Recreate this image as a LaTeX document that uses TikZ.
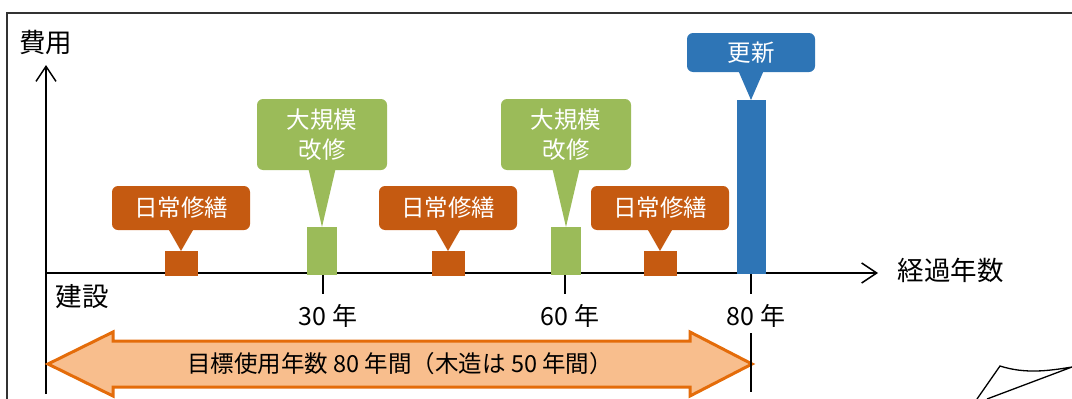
\documentclass[tikz,border=0pt]{standalone}
\usepackage{fontspec}
\setmainfont{Noto Sans CJK JP}
\usetikzlibrary{arrows.meta}
\definecolor{repair}{HTML}{C55A11}
\definecolor{major}{HTML}{9BBB59}
\definecolor{renew}{HTML}{2E75B6}
\definecolor{spanfill}{HTML}{F8BE8D}
\definecolor{spanline}{HTML}{E46C0A}

\begin{document}
\begin{tikzpicture}[x=1pt,y=-1pt,
  bubble/.style={rounded corners=6pt,text=white,align=center,inner sep=0pt,
    font=\fontsize{23.5}{30}\selectfont},
  bar/.style={anchor=north,inner sep=0pt},
  big/.style={font=\fontsize{26.5}{30}\selectfont},
  mid/.style={font=\fontsize{25}{28}\selectfont},
  axis/.style={line width=1.5pt,-{Straight Barb[length=15pt,width=20pt,line width=1.5pt]}}]
\useasboundingbox (0,0) rectangle (1072,399);
% frame and page corner
\draw[line width=1.5pt,black!80] (7,399) -- (7,13) -- (1072,13);
\draw[line width=1.3pt] (977,399) -- (1000,366) .. controls (1025,374) and (1048,371) .. (1072,367) -- (987,399);
% axes
\coordinate (O) at (46,273);
\coordinate (ytop) at (46,65);
\coordinate (xend) at (878,273);
\draw[axis] (46,394) -- (ytop);
\draw[axis] (O) -- (xend);
\node[big] (ylab) at (46,42) {費用};
\node[big,anchor=west] (xlab) at (894,270) {経過年数};
\node[big,anchor=west] (start) at (52,297) {建設};
% ticks
\foreach \x/\n in {323/30,565/60,751/80} {
  \draw[line width=1.5pt] (\x,273) -- (\x,294);
  \node[mid] (t\n) at (\x+5,316) {\n\ 年};
}
% span arrow
\draw[line width=3pt,spanline,fill=spanfill,line join=miter]
  (48,364) -- (113,332) -- (113,341) -- (690,341) -- (690,332) -- (752,364)
  -- (690,396) -- (690,387) -- (113,387) -- (113,396) -- cycle;
\node[font=\fontsize{23.5}{26}\selectfont] (span) at (400,364) {目標使用年数 80 年間（木造は 50 年間）};
\draw[line width=1.5pt] (751,333) -- (751,392);
% daily repair
\foreach \x/\n in {181/a,448/b,660/c} {
  \node[bar,fill=repair,minimum width=33pt,minimum height=25pt] (rb\n) at (\x,251) {};
  \node[bubble,fill=repair,minimum width=138pt,minimum height=44pt] (rc\n) at (\x,208) {日常修繕};
  \fill[repair] ([xshift=-12.5pt,yshift=1pt]rc\n.south) -- ([xshift=12.5pt,yshift=1pt]rc\n.south) -- (rb\n.north) -- cycle;
}
% major repair
\foreach \x/\n in {322/a,566/b} {
  \node[bar,fill=major,minimum width=30pt,minimum height=48pt] (mb\n) at (\x,227) {};
  \node[bubble,fill=major,minimum width=130pt,minimum height=71pt] (mc\n) at (\x,134.5) {大規模\\改修};
  \fill[major] ([xshift=-13.5pt,yshift=1pt]mc\n.south) -- ([xshift=13.5pt,yshift=1pt]mc\n.south) -- (mb\n.north) -- cycle;
}
% renewal
\node[bar,fill=renew,minimum width=29pt,minimum height=174pt] (nb) at (751,100) {};
\node[bubble,fill=renew,minimum width=128pt,minimum height=39pt] (nc) at (751,52.5) {更新};
\fill[renew] ([xshift=-12.5pt,yshift=1pt]nc.south) -- ([xshift=12.5pt,yshift=1pt]nc.south) -- (nb.north) -- cycle;
\end{tikzpicture}
\end{document}
